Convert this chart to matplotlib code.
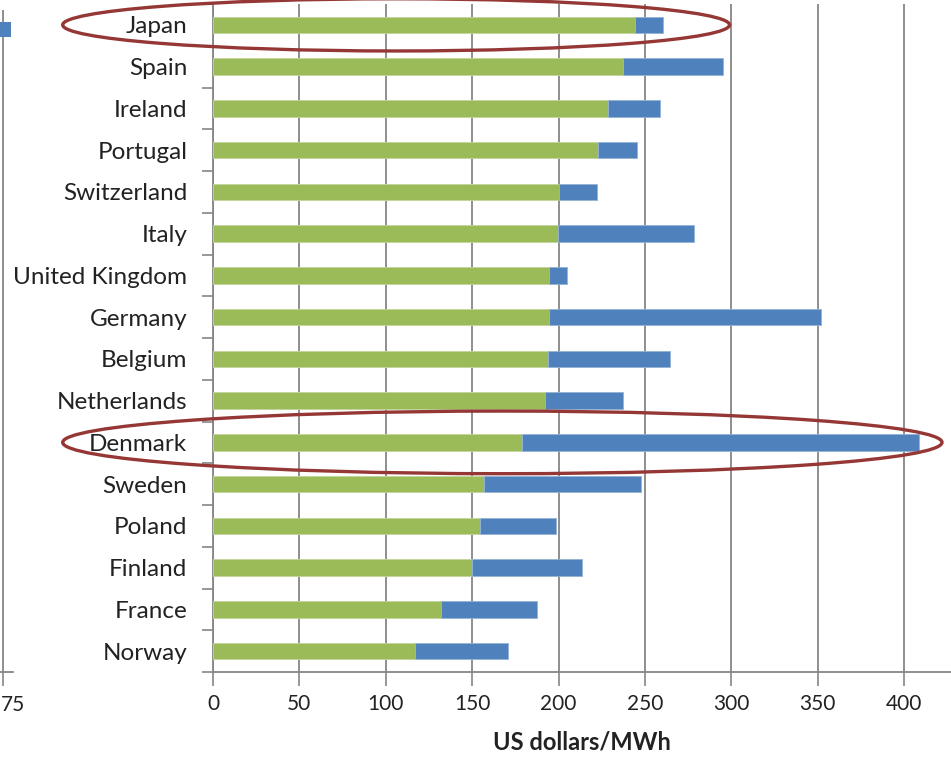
import matplotlib.pyplot as plt
import numpy as np
from matplotlib.patches import Ellipse, Rectangle

countries = [
    "Japan", "Spain", "Ireland", "Portugal", "Switzerland", "Italy",
    "United Kingdom", "Germany", "Belgium", "Netherlands", "Denmark",
    "Sweden", "Poland", "Finland", "France", "Norway",
]
# price excluding taxes (green) and taxes/levies (blue), US dollars/MWh
base_price = [244, 237.5, 228.5, 223, 200.5, 199.5, 194.5, 194.5, 194, 192,
              179, 157, 154.5, 150, 132, 117]
taxes = [16.5, 57.5, 30.5, 22.5, 21.5, 79, 10.5, 157.5, 70.5, 45.5,
         229.5, 91, 44, 63.5, 55.5, 54]
highlighted = ["Japan", "Denmark"]
xticks = [0, 50, 100, 150, 200, 250, 300, 350, 400]

W, H = 951, 760
fig = plt.figure(figsize=(W / 100, H / 100), dpi=100)
plt.rcParams["font.family"] = ["Lato", "DejaVu Sans"]

px_per_unit = 1.7275
ax_left, ax_bottom, ax_top = 213, 672, 4
ax = fig.add_axes([ax_left / W, 1 - ax_bottom / H, 1 - ax_left / W, (ax_bottom - ax_top) / H])

y = np.arange(len(countries))
green = "#9BBB59"
blue = "#4F81BD"
ax.barh(y, base_price, height=0.4, color=green, edgecolor="#C3D69B", linewidth=0.6, zorder=3)
ax.barh(y, taxes, left=base_price, height=0.4, color=blue, edgecolor="#95B3D7",
        linewidth=0.6, zorder=3)

ax.set_xlim(0, (W - ax_left) / px_per_unit)
ax.set_ylim(len(countries) - 0.5, -0.5)
ax.set_xticks(xticks)
ax.set_xticklabels([str(v) for v in xticks], fontsize=15, color="#222222")
ax.set_yticks(y)
ax.set_yticklabels(countries, fontsize=17.5, color="#222222")
ax.set_yticks(np.arange(len(countries) + 1) - 0.5, minor=True)
ax.tick_params(axis="y", which="major", length=0, pad=18.5)
ax.tick_params(axis="y", which="minor", length=8, color="#868686", width=1.2)
ax.tick_params(axis="x", length=10, color="#868686", width=1.2, pad=6, direction="out")
ax.grid(axis="x", color="#868686", linewidth=1.3, zorder=0)
for side in ("top", "right"):
    ax.spines[side].set_visible(False)
for side in ("left", "bottom"):
    ax.spines[side].set_color("#868686")
    ax.spines[side].set_linewidth(1.3)
ax.set_xlabel("US dollars/MWh", fontsize=17, fontweight="bold", labelpad=12, color="#222222")

# ellipses around the highlighted rows
ell_specs = {"Japan": (106.0, 386.0, 1.25), "Denmark": (167.5, 509.0, 1.5)}
for name in highlighted:
    cx, w, h = ell_specs[name]
    ax.add_patch(Ellipse((cx, countries.index(name)), w, h, fill=False,
                         edgecolor="#953735", linewidth=2.4, clip_on=False, zorder=5))

# edge of the neighbouring chart on the left
prev_scale = 3.0
ax_prev = fig.add_axes([-600 / W, 1 - ax_bottom / H, 613 / W, (ax_bottom - 10) / H])
ax_prev.set_xlim(175 - 603 / prev_scale, 175 + 10 / prev_scale)
ax_prev.set_ylim(0, 1)
ax_prev.set_xticks([175])
ax_prev.set_xticklabels([""])
ax_prev.set_yticks([])
ax_prev.tick_params(axis="x", length=10, color="#868686", width=1.2, pad=6)
ax_prev.grid(axis="x", color="#868686", linewidth=1.3)
for side in ("top", "right", "left"):
    ax_prev.spines[side].set_visible(False)
ax_prev.spines["bottom"].set_color("#868686")
ax_prev.spines["bottom"].set_linewidth(1.3)
ax_prev.patch.set_alpha(0)
fig.text(1 / W, 1 - 705 / H, "75", fontsize=15, color="#222222", ha="left", va="center")
fig.patches.append(Rectangle((0, 1 - 37 / H), 11 / W, 15 / H, transform=fig.transFigure,
                             facecolor=blue, edgecolor="none"))

fig.savefig("out.png", dpi=100)
